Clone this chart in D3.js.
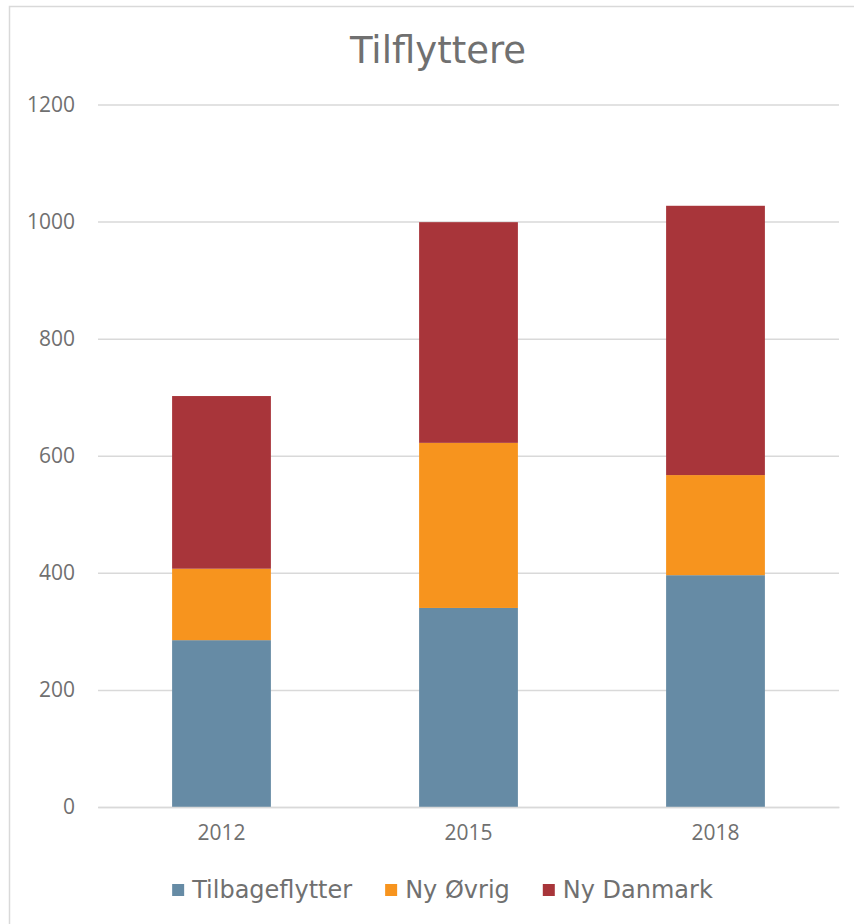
<!DOCTYPE html>
<html lang="en">
<head>
	<meta charset="UTF-8">
	<title>Tilflyttere</title>
	<script type="text/javascript" src="https://cdn.jsdelivr.net/npm/d3@7/dist/d3.min.js"></script>
	<style>
		body{ margin: 0; background: #fff; }
		.grid line{ stroke: #d9d9d9; stroke-width: 1.5px; }
		.grid .domain{ display: none; }
		.tick text{ fill: #707070; }
	</style>
</head>
<body>
<script type="text/javascript">
	var years = ['2012', '2015', '2018'];
	var seriesNames = ['Tilbageflytter', 'Ny Øvrig', 'Ny Danmark'];
	var tilbageflytter = [285, 340, 396];
	var nyOevrig = [122, 282, 171];
	var nyDanmark = [295, 377, 460];
	var yTicks = [0, 200, 400, 600, 800, 1000, 1200];
	var colors = ['#668ba5', '#f7941e', '#a8353a'];

	window.onload = function (){
		var rows = years.map(function(y, i){
			return { year: y, 'Tilbageflytter': tilbageflytter[i], 'Ny Øvrig': nyOevrig[i], 'Ny Danmark': nyDanmark[i] };
		});

		var margin = { top: 104.5, left: 98, bottom: 117, right: 15 };
		var W = 854, H = 924;
		var width = W - margin.left - margin.right;
		var height = H - margin.top - margin.bottom;

		var root = d3.select('body').append('svg')
			.attr('width', W).attr('height', H);

		// chart frame
		root.append('rect')
			.attr('x', 9.5).attr('y', 6.5)
			.attr('width', W + 20).attr('height', H + 20)
			.attr('fill', 'none')
			.attr('stroke', '#d9d9d9')
			.attr('stroke-width', 1.5);

		root.append('text')
			.attr('x', 438).attr('y', 63)
			.attr('text-anchor', 'middle')
			.style('font-family', '"DejaVu Sans", Verdana, sans-serif')
			.style('font-size', '37px')
			.style('fill', '#707070')
			.text('Tilflyttere');

		var svg = root.append('g')
			.attr('transform', 'translate(' + margin.left + ',' + margin.top + ')');

		var x = d3.scaleBand()
			.domain(years)
			.range([0, width])
			.paddingInner(0.6)
			.paddingOuter(0.3);

		var y = d3.scaleLinear()
			.domain([0, 1200])
			.range([height, 0]);

		var yAxis = svg.append('g')
			.attr('class', 'grid')
			.call(d3.axisLeft(y).tickValues(yTicks).tickFormat(d3.format('d')).tickSize(-width).tickPadding(23));
		yAxis.selectAll('text')
			.style('font-family', '"Open Sans", sans-serif')
			.style('font-size', '21px');

		var stack = d3.stack().keys(seriesNames)(rows);

		svg.selectAll('.layer')
			.data(stack)
			.enter().append('g')
			.attr('class', 'layer')
			.attr('fill', function(d, i){ return colors[i]; })
			.selectAll('rect')
			.data(function(d){ return d; })
			.enter().append('rect')
			.attr('x', function(d){ return x(d.data.year); })
			.attr('width', x.bandwidth())
			.attr('y', function(d){ return y(d[1]); })
			.attr('height', function(d){ return y(d[0]) - y(d[1]); });

		var xAxis = svg.append('g')
			.attr('transform', 'translate(0,' + height + ')')
			.call(d3.axisBottom(x).tickSize(0).tickPadding(18));
		xAxis.select('.domain')
			.attr('stroke', '#d9d9d9')
			.attr('stroke-width', 1.5);
		xAxis.selectAll('text')
			.style('font-family', '"Open Sans", sans-serif')
			.style('font-size', '21px');

		// legend
		var legend = root.append('g');
		var items = legend.selectAll('.item')
			.data(seriesNames)
			.enter().append('g')
			.attr('class', 'item');
		items.append('rect')
			.attr('width', 12).attr('height', 12)
			.attr('y', -6)
			.attr('fill', function(d, i){ return colors[i]; });
		items.append('text')
			.attr('x', 20).attr('dy', '0.35em')
			.style('font-family', '"DejaVu Sans", Verdana, sans-serif')
			.style('font-size', '24px')
			.style('fill', '#707070')
			.text(function(d){ return d; });

		var offset = 0;
		items.each(function(){
			var w = 20 + this.querySelector('text').getComputedTextLength();
			d3.select(this).attr('transform', 'translate(' + offset + ',0)');
			offset += w + 33;
		});
		var total = offset - 33;
		legend.attr('transform', 'translate(' + (442.5 - total / 2) + ',890)');
	};
</script>
</body>
</html>
